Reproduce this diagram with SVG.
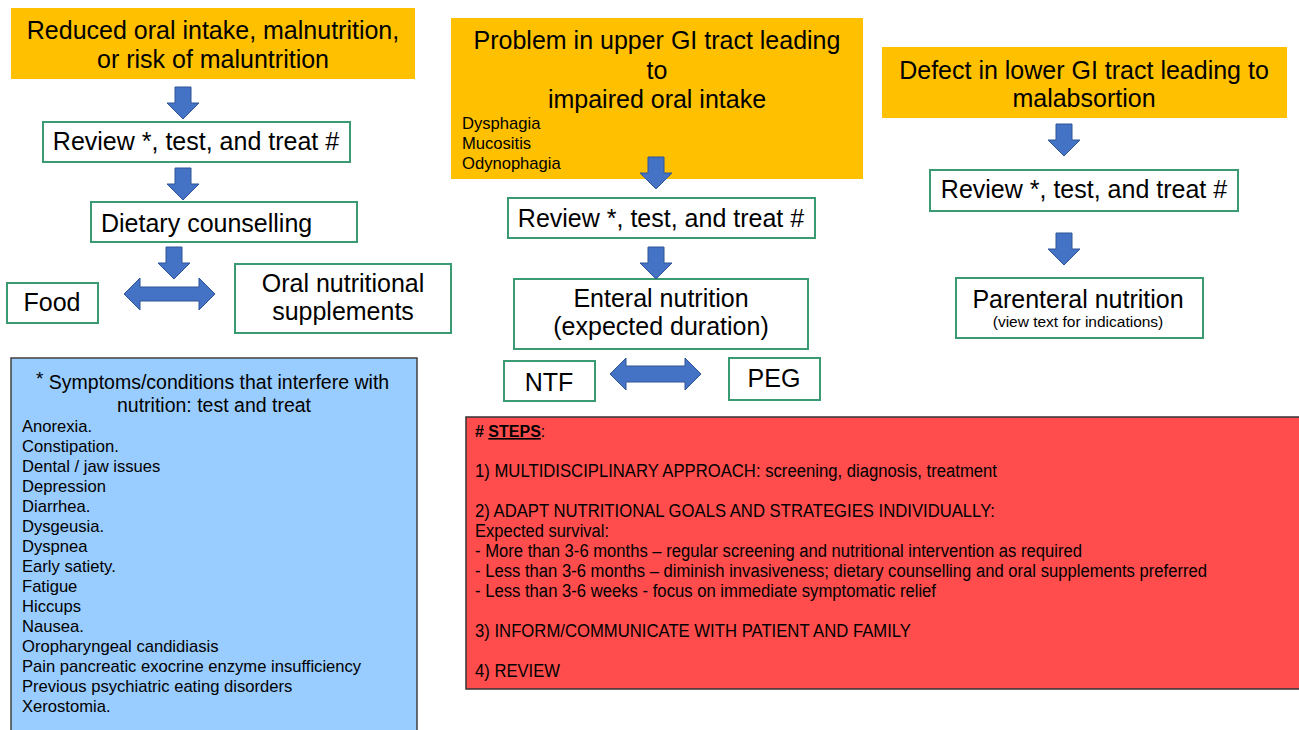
<svg xmlns="http://www.w3.org/2000/svg" xmlns:xlink="http://www.w3.org/1999/xlink" width="1299" height="730" viewBox="0 0 1299 730">
<style>
.orange{fill:#ffc000;stroke:none}
.box{fill:#ffffff;stroke:#3a9b73;stroke-width:2}
.t{font-family:"Liberation Sans",Arial,sans-serif;fill:#000}
.big{font-size:25px}
.mid{font-size:19.5px}
.sm{font-size:16.6px}
.red{font-family:"Liberation Sans Narrow","Liberation Sans",Arial,sans-serif;font-size:18px;fill:#000}
.arr{fill:#4472c4;stroke:#2f5597;stroke-width:1}
</style>
<defs>
<path id="down" d="M-8,0 H8 V16 H16 L0,32 L-16,16 H-8 Z"/>
</defs>
<rect width="1299" height="730" fill="#ffffff"/>

<g id="n-reduced">
<rect class="orange" x="11" y="8" width="404" height="71"/>
<text class="t big" x="213" y="39" text-anchor="middle">Reduced oral intake, malnutrition,</text>
<text class="t big" x="213" y="68" text-anchor="middle">or risk of maluntrition</text>
</g>
<g id="n-review1">
<rect class="box" x="43" y="122" width="307" height="40"/>
<text class="t big" x="196" y="150" text-anchor="middle">Review *, test, and treat #</text>
</g>
<g id="n-dietary">
<rect class="box" x="91" y="202" width="266" height="40"/>
<text class="t big" x="101" y="232">Dietary counselling</text>
</g>
<g id="n-food">
<rect class="box" x="7" y="283" width="91" height="40"/>
<text class="t big" x="52" y="311" text-anchor="middle">Food</text>
</g>
<g id="n-ons">
<rect class="box" x="235" y="264" width="216" height="69"/>
<text class="t big" x="343" y="292" text-anchor="middle">Oral nutritional</text>
<text class="t big" x="343" y="320" text-anchor="middle">supplements</text>
</g>

<g id="n-upper">
<rect class="orange" x="451" y="18" width="412" height="161"/>
<text class="t big" x="657" y="49" text-anchor="middle">Problem in upper GI tract leading</text>
<text class="t big" x="657" y="79" text-anchor="middle">to</text>
<text class="t big" x="657" y="108" text-anchor="middle">impaired oral intake</text>
<text class="t sm" x="462" y="129">Dysphagia</text>
<text class="t sm" x="462" y="149">Mucositis</text>
<text class="t sm" x="462" y="169">Odynophagia</text>
</g>
<g id="n-review2">
<rect class="box" x="508" y="198" width="307" height="40"/>
<text class="t big" x="661" y="227" text-anchor="middle">Review *, test, and treat #</text>
</g>
<g id="n-enteral">
<rect class="box" x="514" y="279" width="294" height="70"/>
<text class="t big" x="661" y="307" text-anchor="middle">Enteral nutrition</text>
<text class="t big" x="661" y="335" text-anchor="middle">(expected duration)</text>
</g>
<g id="n-ntf">
<rect class="box" x="504" y="361" width="91" height="40"/>
<text class="t big" x="549" y="391" text-anchor="middle">NTF</text>
</g>
<g id="n-peg">
<rect class="box" x="729" y="358" width="91" height="42"/>
<text class="t big" x="774" y="387" text-anchor="middle">PEG</text>
</g>

<g id="n-lower">
<rect class="orange" x="882" y="47" width="405" height="71"/>
<text class="t big" x="1084" y="79" text-anchor="middle">Defect in lower GI tract leading to</text>
<text class="t big" x="1084" y="107" text-anchor="middle">malabsortion</text>
</g>
<g id="n-review3">
<rect class="box" x="930" y="170" width="308" height="41"/>
<text class="t big" x="1084" y="198" text-anchor="middle">Review *, test, and treat #</text>
</g>
<g id="n-parenteral">
<rect class="box" x="956" y="278" width="247" height="60"/>
<text class="t big" x="1078" y="308" text-anchor="middle">Parenteral nutrition</text>
<text class="t sm" x="1078" y="327" text-anchor="middle" style="font-size:15.5px">(view text for indications)</text>
</g>

<g id="n-symptoms">
<rect x="11" y="358" width="406" height="380" fill="#99ccff" stroke="#404040" stroke-width="1.5"/>
<text class="t mid" x="36" y="389"><tspan font-size="19" dy="-4">*</tspan><tspan dy="4"> Symptoms/conditions that interfere with</tspan></text>
<text class="t mid" x="214" y="412" text-anchor="middle">nutrition: test and treat</text>
<text class="t sm" x="22" y="432">Anorexia.</text>
<text class="t sm" x="22" y="452">Constipation.</text>
<text class="t sm" x="22" y="472">Dental / jaw issues</text>
<text class="t sm" x="22" y="492">Depression</text>
<text class="t sm" x="22" y="512">Diarrhea.</text>
<text class="t sm" x="22" y="532">Dysgeusia.</text>
<text class="t sm" x="22" y="552">Dyspnea</text>
<text class="t sm" x="22" y="572">Early satiety.</text>
<text class="t sm" x="22" y="592">Fatigue</text>
<text class="t sm" x="22" y="612">Hiccups</text>
<text class="t sm" x="22" y="632">Nausea.</text>
<text class="t sm" x="22" y="652">Oropharyngeal candidiasis</text>
<text class="t sm" x="22" y="672">Pain pancreatic exocrine enzyme insufficiency</text>
<text class="t sm" x="22" y="692">Previous psychiatric eating disorders</text>
<text class="t sm" x="22" y="712">Xerostomia.</text>
</g>

<g id="n-steps">
<rect x="466" y="417" width="840" height="272" fill="#ff4d4d" stroke="#333333" stroke-width="1.5"/>
<text class="red" x="475" y="437" style="font-size:16px;font-weight:bold"># <tspan text-decoration="underline">STEPS</tspan><tspan font-weight="normal">:</tspan></text>
<text class="red" x="475" y="477" textLength="522" lengthAdjust="spacingAndGlyphs">1) MULTIDISCIPLINARY APPROACH: screening, diagnosis, treatment</text>
<text class="red" x="475" y="517" textLength="520" lengthAdjust="spacingAndGlyphs">2) ADAPT NUTRITIONAL GOALS AND STRATEGIES INDIVIDUALLY:</text>
<text class="red" x="475" y="537" textLength="134" lengthAdjust="spacingAndGlyphs">Expected survival:</text>
<text class="red" x="475" y="557" textLength="607" lengthAdjust="spacingAndGlyphs">- More than 3-6 months – regular screening and nutritional intervention as required</text>
<text class="red" x="475" y="577" textLength="732" lengthAdjust="spacingAndGlyphs">- Less than 3-6 months – diminish invasiveness; dietary counselling and oral supplements preferred</text>
<text class="red" x="475" y="597" textLength="461" lengthAdjust="spacingAndGlyphs">- Less than 3-6 weeks - focus on immediate symptomatic relief</text>
<text class="red" x="475" y="637" textLength="436" lengthAdjust="spacingAndGlyphs">3) INFORM/COMMUNICATE WITH PATIENT AND FAMILY</text>
<text class="red" x="475" y="677" textLength="85" lengthAdjust="spacingAndGlyphs">4) REVIEW</text>
</g>

<g id="connectors">
<use xlink:href="#down" href="#down" class="arr" x="183" y="87"/>
<use xlink:href="#down" href="#down" class="arr" x="183" y="168"/>
<use xlink:href="#down" href="#down" class="arr" x="174" y="247"/>
<path class="arr" d="M124,294 L140,278 V287 H199 V278 L215,294 L199,310 V301 H140 V310 Z"/>
<use xlink:href="#down" href="#down" class="arr" x="656" y="157"/>
<use xlink:href="#down" href="#down" class="arr" x="656" y="247"/>
<path class="arr" d="M610,374 L626,358 V366 H685 V358 L701,374 L685,390 V382 H626 V390 Z"/>
<use xlink:href="#down" href="#down" class="arr" x="1064" y="124"/>
<use xlink:href="#down" href="#down" class="arr" x="1064" y="233"/>
</g>
</svg>
